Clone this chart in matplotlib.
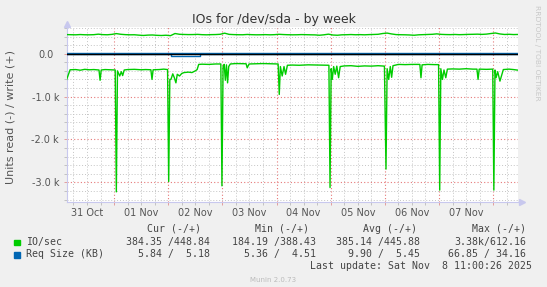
import numpy as np
import matplotlib.pyplot as plt
from matplotlib.patches import Rectangle
from matplotlib.transforms import ScaledTranslation

# time axis: hours since 31 Oct 00:00, graph covers 31 Oct 03:00 .. 08 Nov 11:00
write_hours = np.arange(3, 204, 2)
write_iops = [445, 442, 440, 446, 441, 440, 443, 455, 444, 441,
              450, 468, 452, 444, 440, 441, 432, 425, 433, 436,
              428, 424, 430, 420, 470, 452, 448, 445, 446, 450,
              443, 440, 444, 446, 452, 478, 450, 445, 442, 441,
              448, 443, 440, 441, 444, 440, 443, 452, 446, 442,
              440, 441, 445, 443, 440, 438, 430, 440, 455, 435,
              430, 440, 442, 446, 441, 444, 440, 445, 448, 452,
              470, 480, 460, 445, 442, 440, 436, 430, 440, 444,
              448, 452, 462, 450, 446, 444, 448, 443, 446, 450,
              452, 455, 450, 456, 470, 482, 460, 448, 452, 446,
              448]

# read side (drawn negative): (hour, IOs)
read_points = [(3, -600), (4.5, -375), (7, -370), (9, -385), (11, -365), (13, -375),
               (15, -370), (17.3, -380), (17.8, -620), (18.3, -380), (20, -370),
               (22, -375), (24.5, -380), (25, -3220), (25.5, -400), (26.5, -520),
               (27.2, -420), (27.8, -510), (28.5, -380), (30, -370), (33, -365),
               (36, -375), (38, -370), (40.3, -375), (40.8, -600), (41.3, -375),
               (44, -370), (46, -360), (47.7, -370), (48.2, -2980), (48.7, -600),
               (49.2, -600), (50, -470), (50.7, -560), (51.4, -680), (52, -480),
               (53, -520), (54, -460), (55, -440), (57, -430), (58.5, -440),
               (60, -400), (60.8, -370), (61.5, -250), (63, -245), (66, -250),
               (69, -240), (71.3, -240), (71.8, -3080), (72.3, -300), (72.8, -250),
               (73.3, -620), (73.8, -260), (74.3, -680), (74.8, -300), (75.5, -240),
               (78, -230), (81, -235), (82.5, -235), (83, -330), (83.8, -240),
               (87, -235), (90, -230), (93, -235), (96.7, -240), (97.2, -950),
               (97.7, -300), (98.5, -520), (99.3, -300), (100, -480), (100.8, -270),
               (103, -265), (106, -270), (110, -260), (114, -265), (118, -270),
               (119.2, -270), (119.7, -3120), (120.2, -350), (120.7, -600),
               (121.3, -300), (122, -480), (122.7, -290), (123.5, -560), (124.2, -300),
               (126, -285), (129, -280), (132, -295), (135, -285), (138, -290),
               (141, -280), (143.8, -290), (144.5, -2690), (145, -350), (145.7, -600),
               (146.4, -300), (147, -550), (147.6, -280), (150, -250), (153, -255),
               (156, -250), (159.5, -250), (160, -560), (160.5, -260), (163, -250),
               (166, -255), (167.8, -255), (168.3, -3180), (168.8, -350), (169.5, -600),
               (170.2, -380), (171, -560), (171.7, -360), (174, -355), (177, -360),
               (180, -350), (183, -360), (184.8, -360), (185.3, -600), (185.8, -360),
               (189, -365), (191.8, -360), (192.3, -3180), (192.8, -380), (193.3, -560),
               (194, -420), (195, -640), (196.5, -370), (199, -360), (201, -370),
               (203, -384)]

req_hours = [3, 49.2, 49.4, 61.7, 61.9, 203]
req_read_kb = [-5.8, -5.8, -55, -55, -5.6, -5.8]
req_write_kb = [5.2, 5.2, 5.3, 5.3, 5.2, 5.2]

day_labels = ['31 Oct', '01 Nov', '02 Nov', '03 Nov', '04 Nov', '05 Nov', '06 Nov', '07 Nov']

legend_header = ['Cur (-/+)', 'Min (-/+)', 'Avg (-/+)', 'Max (-/+)']
io_stats = ['384.35 /448.84', '184.19 /388.43', '385.14 /445.88', '3.38k/612.16']
req_stats = ['5.84 /  5.18', '5.36 /  4.51', '9.90 /  5.45', '66.85 / 34.16']

green = '#00cc00'
blue = '#0066b3'
W, H = 547, 287

fig = plt.figure(figsize=(W / 100, H / 100), dpi=100)
fig.patch.set_facecolor('#f0f0f0')
ax = fig.add_axes([66.7 / W, 1 - 202.3 / H, (518 - 66.7) / W, (202.3 - 27) / H])
ax.set_facecolor('white')

rh = [p[0] for p in read_points]
rv = [p[1] for p in read_points]
ax.plot(write_hours, write_iops, color=green, lw=1.0, zorder=3)
ax.plot(rh, rv, color=green, lw=1.0, zorder=3)
ax.plot(req_hours, req_read_kb, color=blue, lw=1.0, zorder=3, drawstyle='steps-post')
ax.plot(req_hours, req_write_kb, color=blue, lw=1.0, zorder=3, drawstyle='steps-post')
ax.axhline(0, color='black', lw=1.0, zorder=4)

ax.set_xlim(3, 203)
ax.set_ylim(-3464, 622)

ax.set_xticks(np.arange(24, 200, 24))
ax.set_xticks(np.arange(6, 203, 6), minor=True)
ax.set_yticks([-3000, -2000, -1000, 0])
ax.set_yticks(np.arange(-3400, 700, 200), minor=True)
ax.set_yticklabels(['-3.0 k', '-2.0 k', '-1.0 k', '0.0'])
ax.set_xticklabels([])

grid_ls = (0, (1, 2))
ax.grid(which='minor', color='#c4c4c4', ls=grid_ls, lw=0.7)
ax.grid(which='major', color='#e67878', ls=grid_ls, lw=0.8)

for s in ['top', 'right']:
    ax.spines[s].set_visible(False)
for s in ['left', 'bottom']:
    ax.spines[s].set_color('#c8c8ee')
    ax.spines[s].set_linewidth(0.8)

ax.tick_params(which='major', direction='out', length=2, width=0.6, colors='#555555',
               labelsize=7, pad=3.5)
ax.tick_params(axis='both', which='major', color='#e09090')
ax.tick_params(which='minor', direction='out', length=2, width=0.6, color='#bbbbbb')
# "0.0" sits a bit further from the axis, rrdtool style
zero_lbl = ax.get_yticklabels()[-1]
zero_lbl.set_transform(zero_lbl.get_transform() + ScaledTranslation(-5 / 100, 0, fig.dpi_scale_trans))

# day labels centred on noon
sec = ax.secondary_xaxis('bottom')
sec.set_xticks(np.arange(12, 200, 24), labels=day_labels)
sec.tick_params(length=0, labelsize=7, labelcolor='#555555', pad=4)
sec.spines['bottom'].set_visible(False)

# axis arrows
ax.plot([0], [1.015], marker='^', ms=4, color='#c8c8ee', transform=ax.transAxes, clip_on=False)
ax.plot([1.008], [0], marker='>', ms=4, color='#c8c8ee', transform=ax.transAxes, clip_on=False)

fig.text(0.5, 1 - 19 / H, 'IOs for /dev/sda - by week', ha='center', va='center',
         fontsize=9, color='#333333')
fig.text(10.5 / W, 1 - 117 / H, 'Units read (-) / write (+)', rotation=90,
         ha='center', va='center', fontsize=8, color='#555555')
fig.text(537.3 / W, 1 - 5 / H, 'RRDTOOL / TOBI OETIKER', rotation=270,
         ha='center', va='top', fontsize=5.4, color='#c8c8c8')

mono = dict(family='DejaVu Sans Mono', fontsize=7.1, color='#444444', va='center')
header_x = [200.6, 309.1, 417.3, 526.2]
row_x = [209.7, 315.8, 420.4, 526.2]
for txt, x in zip(legend_header, header_x):
    fig.text(x / W, 1 - 228.6 / H, txt, ha='right', **mono)
fig.text(26.2 / W, 1 - 241.9 / H, 'IO/sec', ha='left', **mono)
fig.text(26.2 / W, 1 - 254.4 / H, 'Req Size (KB)', ha='left', **mono)
for txt, x in zip(io_stats, row_x):
    fig.text(x / W, 1 - 241.9 / H, txt, ha='right', **mono)
for txt, x in zip(req_stats, row_x):
    fig.text(x / W, 1 - 254.4 / H, txt, ha='right', **mono)
fig.text(532 / W, 1 - 266.3 / H, 'Last update: Sat Nov  8 11:00:26 2025', ha='right', **mono)

fig.patches.append(Rectangle((14 / W, 1 - 245 / H), 5.5 / W, 5.5 / H, color=green,
                             transform=fig.transFigure))
fig.patches.append(Rectangle((14 / W, 1 - 257.5 / H), 5.5 / W, 5.5 / H, color=blue,
                             transform=fig.transFigure))

fig.text(272.9 / W, 1 - 279.6 / H, 'Munin 2.0.73', ha='center', va='center',
         fontsize=5, color='#bbbbbb')

fig.savefig('out.png', dpi=100, facecolor=fig.get_facecolor())
